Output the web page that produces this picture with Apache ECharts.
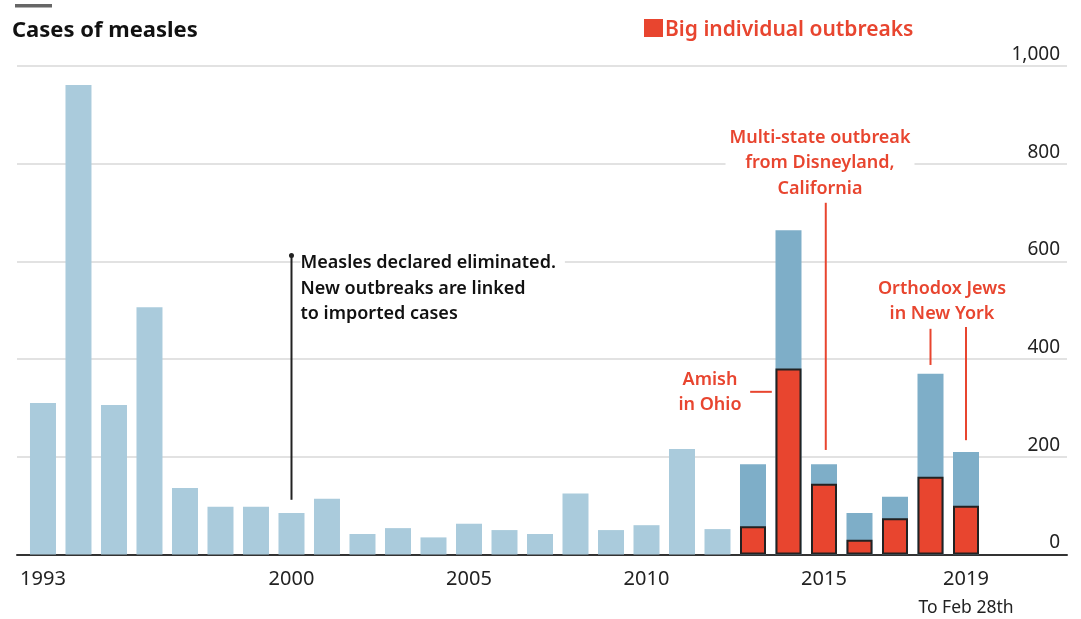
<!DOCTYPE html>
<html><head><meta charset="utf-8">
<script src="https://cdn.jsdelivr.net/npm/echarts@6/dist/echarts.min.js"></script>
<style>html,body{margin:0;padding:0;background:#fff}#c{width:1081px;height:619px}</style>
</head><body><div id="c"></div>
<script>
const years = [1993,1994,1995,1996,1997,1998,1999,2000,2001,2002,2003,2004,2005,2006,2007,2008,2009,2010,2011,2012,2013,2014,2015,2016,2017,2018,2019];
const totalCases = [310,961,306,506,136,98,98,85,114,42,54,35,63,50,42,125,50,60,216,52,185,664,185,85,118,370,210];
const outbreakYears = [2013,2014,2015,2016,2017,2018,2019];
const outbreakCases = [58,381,145,30,74,159,100];
const xTickLabels = [1993,2000,2005,2010,2015,2019];
const yTicks = [0,200,400,600,800,1000];
const darkFrom = 2013;

const FONT = '"Noto Sans", "Open Sans", sans-serif';
const RED = '#e8452f';
const chart = echarts.init(document.getElementById('c'), null, {renderer:'canvas'});

const totalData = years.map((y,i)=>({value:[y,totalCases[i]], itemStyle:{color: y>=darkFrom ? '#7eaec8' : '#aacbdc'}}));
const outData = outbreakYears.map((y,i)=>[y,outbreakCases[i]]);

chart.setOption({
  animation:false,
  backgroundColor:'#ffffff',
  grid:{left:17,right:14,top:66,bottom:64.5,containLabel:false},
  xAxis:{type:'value',min:1992.268,max:2021.845,
    axisLine:{show:true,lineStyle:{color:'#333',width:2}},
    axisTick:{show:false},splitLine:{show:false},
    axisLabel:{customValues:xTickLabels,margin:13,fontFamily:FONT,fontSize:20,color:'#222',
      formatter:v=> v===2019 ? '2019\n{s|To Feb 28th}' : String(v),
      rich:{s:{fontFamily:FONT,fontSize:17.5,color:'#222',padding:[10,0,0,0]}},
      verticalAlign:'top', lineHeight:24}
  },
  yAxis:{type:'value',min:0,max:1000,interval:200,position:'right',
    axisLine:{show:false},axisTick:{show:false},
    splitLine:{lineStyle:{color:'#d8d8d8',width:1.5}},
    axisLabel:{inside:true,align:'right',verticalAlign:'bottom',margin:7,padding:[0,0,2,0],
      fontFamily:FONT,fontSize:19,color:'#222',
      formatter:v=>v.toLocaleString('en-US')}
  },
  series:[
    {type:'bar',data:totalData,barWidth:26,barGap:'-100%',z:2},
    {type:'bar',data:outData,barWidth:26,barGap:'-100%',z:3,
      itemStyle:{color:RED,borderColor:'#222',borderWidth:2}}
  ]
});

function P(x,y){return chart.convertToPixel({gridIndex:0},[x,y]);}
const g = [];
g.push({type:'rect',shape:{x:15,y:4,width:37,height:3.5},style:{fill:'#666'}});
g.push({type:'text',x:12,y:20,style:{text:'Cases of measles',font:'bold 22px '+FONT,fill:'#111'}});
g.push({type:'rect',shape:{x:644,y:19,width:19,height:18},style:{fill:RED}});
g.push({type:'text',x:665,y:20,style:{text:'Big individual outbreaks',font:'600 21px '+FONT,fill:RED}});

const AF = '600 18px '+FONT;
// Measles eliminated annotation
const a1 = P(2000,612), a2 = P(2000,112);
g.push({type:'line',shape:{x1:a1[0],y1:a1[1],x2:a2[0],y2:a2[1]},style:{stroke:'#222',lineWidth:2},z:10});
g.push({type:'circle',shape:{cx:a1[0],cy:a1[1],r:2.5},style:{fill:'#222'},z:10});
g.push({type:'text',x:a1[0]+9,y:a1[1]-5,z:10,style:{text:'Measles declared eliminated.\nNew outbreaks are linked\nto imported cases',
  font:AF,fill:'#111',lineHeight:25.5,backgroundColor:'#fff',padding:[0,9,0,0]}});

// Disneyland
const d1 = P(2015.05,720), d2 = P(2015.05,214);
g.push({type:'line',shape:{x1:d1[0],y1:d1[1],x2:d2[0],y2:d2[1]},style:{stroke:RED,lineWidth:2},z:10});
g.push({type:'text',x:820,y:125,z:10,style:{text:'Multi-state outbreak\nfrom Disneyland,\nCalifornia',align:'center',
  font:AF,fill:RED,lineHeight:25.5,backgroundColor:'#fff',padding:[0,4,0,4]}});

// Amish
const m1 = P(2012.92,333), m2 = P(2013.53,333);
g.push({type:'line',shape:{x1:m1[0],y1:m1[1],x2:m2[0],y2:m2[1]},style:{stroke:RED,lineWidth:2},z:10});
g.push({type:'text',x:710,y:367,z:10,style:{text:'Amish\nin Ohio',align:'center',font:AF,fill:RED,lineHeight:25.5}});

// Orthodox
const o1 = P(2018,462), o2 = P(2018,388), o3 = P(2019,468), o4 = P(2019,234);
g.push({type:'line',shape:{x1:o1[0],y1:o1[1],x2:o2[0],y2:o2[1]},style:{stroke:RED,lineWidth:2},z:10});
g.push({type:'line',shape:{x1:o3[0],y1:o3[1],x2:o4[0],y2:o4[1]},style:{stroke:RED,lineWidth:2},z:10});
g.push({type:'text',x:942,y:276,z:10,style:{text:'Orthodox Jews\nin New York',align:'center',font:AF,fill:RED,lineHeight:25.5,
  backgroundColor:'#fff',padding:[0,4,0,4]}});

chart.setOption({graphic:g});
</script></body></html>
